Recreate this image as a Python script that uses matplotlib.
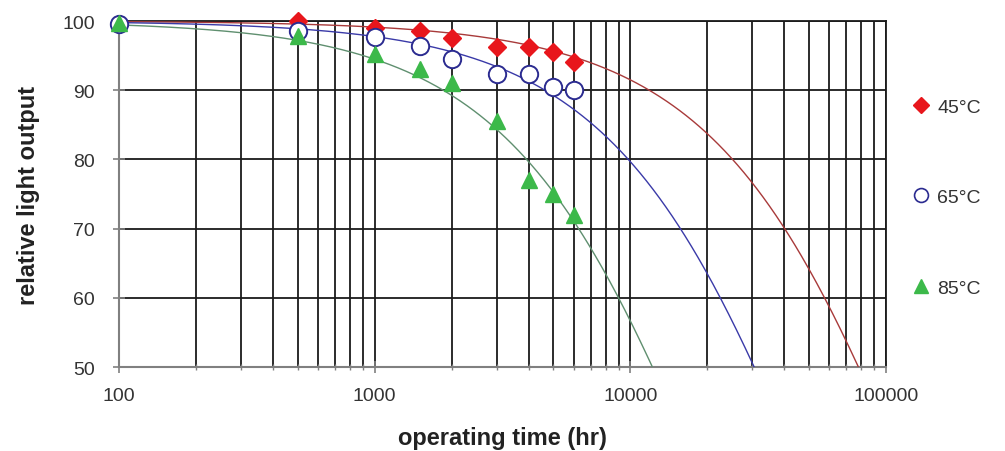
import numpy as np
import matplotlib.pyplot as plt
from matplotlib.lines import Line2D

plt.rcParams['font.family'] = ['Liberation Sans', 'DejaVu Sans']

hours = [100, 500, 1000, 1500, 2000, 3000, 4000, 5000, 6000]
out_45 = [99.6, 100.0, 99.0, 98.6, 97.5, 96.2, 96.2, 95.5, 94.1]
out_65 = [99.6, 98.5, 97.7, 96.4, 94.5, 92.3, 92.3, 90.4, 90.1]
out_85 = [99.7, 97.8, 95.2, 93.0, 91.0, 85.5, 77.0, 75.0, 72.0]
labels = ['45°C', '65°C', '85°C']

# exponential trend lines: hours where each curve hits 50
half_life = [78000, 30500, 12200]

fig = plt.figure(figsize=(10.05, 4.52), dpi=100)
ax = fig.add_axes([0.1184, 0.1858, 0.7632, 0.7655])

t = np.logspace(2, 5, 600)
trend_cols = ['#a83a3a', '#3a3aa8', '#5f8f6f']
for hl, c in zip(half_life, trend_cols):
    ax.plot(t, 100 * 0.5 ** (t / hl), color=c, lw=1.0, zorder=3)

ax.plot(hours, out_45, ls='none', marker='D', ms=9, color='#e8161c', mec='#e8161c',
        zorder=4, clip_on=False)
ax.plot(hours, out_65, ls='none', marker='o', ms=12.5, mfc='white', mec='#2b2b90', mew=1.4,
        zorder=5, clip_on=False)
ax.plot(hours, out_85, ls='none', marker='^', ms=11, color='#3cb94a', mec='#3cb94a',
        zorder=6, clip_on=False)

ax.set_xscale('log')
ax.set_xlim(100, 100000)
ax.set_ylim(50, 100)
ax.set_yticks([50, 60, 70, 80, 90, 100])
ax.set_xticks([100, 1000, 10000, 100000])
ax.set_xticklabels(['100', '1000', '10000', '100000'])

ax.grid(True, which='both', axis='x', color='#1a1a1a', lw=1.3)
ax.grid(True, which='major', axis='y', color='#1a1a1a', lw=1.3)
ax.set_axisbelow(True)

for s in ['left', 'bottom']:
    ax.spines[s].set_color('#808080')
    ax.spines[s].set_linewidth(1.5)
for s in ['top', 'right']:
    ax.spines[s].set_color('#1a1a1a')
    ax.spines[s].set_linewidth(1.3)

ax.tick_params(axis='both', which='major', direction='inout', length=9, width=1.2,
               color='#808080', labelsize=14, labelcolor='#333333')
ax.tick_params(axis='y', which='major', pad=13)
ax.tick_params(axis='x', which='major', pad=10)
ax.tick_params(axis='x', which='minor', direction='inout', length=5, width=1.0, color='#808080')
ax.tick_params(axis='x', which='minor', labelbottom=False)

ax.set_xlabel('operating time (hr)', fontsize=17, fontweight='bold', color='#222222', labelpad=16)
ax.set_ylabel('relative light output', fontsize=17, fontweight='bold', color='#222222', labelpad=16)

handles = [
    Line2D([], [], ls='none', marker='D', ms=8, color='#e8161c'),
    Line2D([], [], ls='none', marker='o', ms=10, mfc='white', mec='#2b2b90', mew=1.2),
    Line2D([], [], ls='none', marker='^', ms=10, color='#3cb94a'),
]
leg = ax.legend(handles, labels, loc='upper left', bbox_to_anchor=(1.025, 0.80),
                frameon=False, fontsize=14, labelspacing=3.75, handlelength=0.8,
                handletextpad=0.45, borderaxespad=0)
for txt in leg.get_texts():
    txt.set_color('#333333')

fig.savefig('out.png', dpi=100)
